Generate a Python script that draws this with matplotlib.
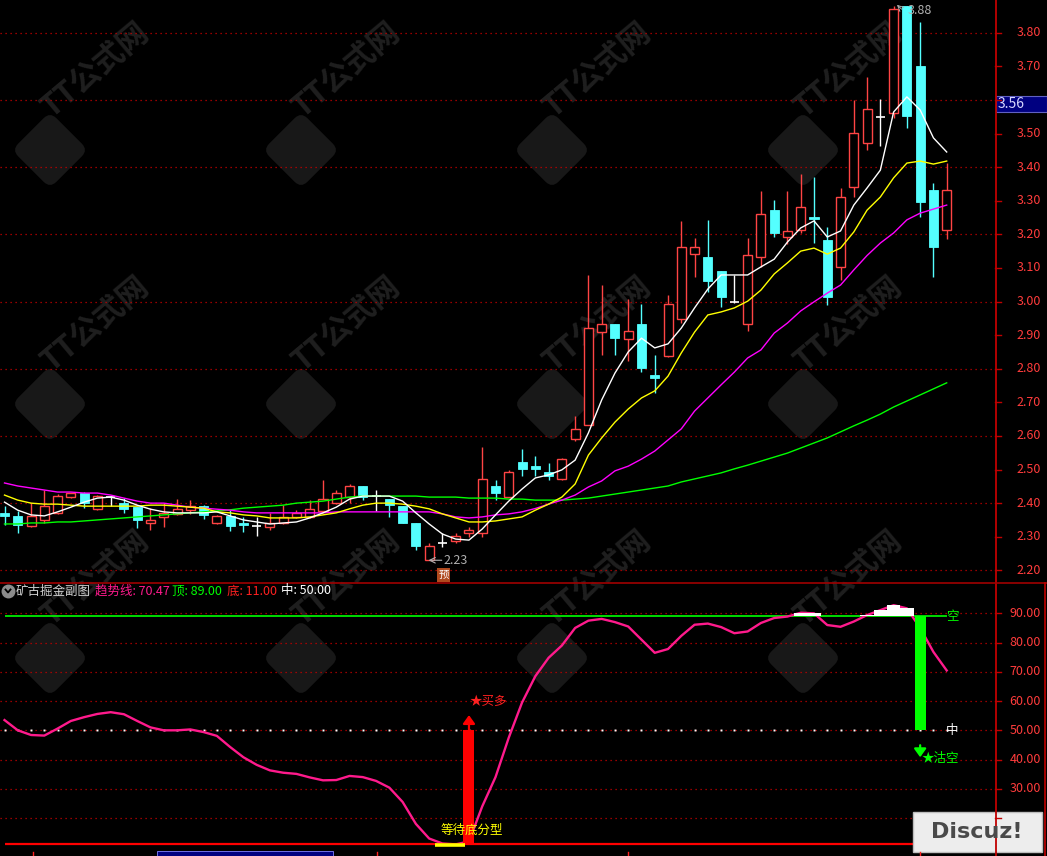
import numpy as np
import matplotlib
matplotlib.use("Agg")
import matplotlib.pyplot as plt
from matplotlib.patches import Rectangle, FancyBboxPatch
from matplotlib.lines import Line2D
from matplotlib.transforms import Affine2D, blended_transform_factory

plt.rcParams["font.family"] = ["Noto Sans CJK SC", "DejaVu Sans"]
plt.rcParams["axes.unicode_minus"] = False

# ---- K-line data ----
opens = [2.372, 2.362, 2.331, 2.350, 2.371, 2.419, 2.429, 2.382, 2.418, 2.401,
         2.389, 2.340, 2.360, 2.368, 2.380, 2.392, 2.340, 2.362, 2.342, 2.332,
         2.330, 2.340, 2.360, 2.360, 2.378, 2.400, 2.419, 2.451, 2.422, 2.411,
         2.392, 2.342, 2.230, 2.282, 2.288, 2.310, 2.310, 2.451, 2.419, 2.522,
         2.510, 2.493, 2.471, 2.590, 2.632, 2.910, 2.933, 2.889, 2.933, 2.780,
         2.838, 2.949, 3.140, 3.131, 3.090, 3.000, 2.933, 3.131, 3.272, 3.191,
         3.213, 3.252, 3.183, 3.102, 3.340, 3.471, 3.550, 3.560, 3.880, 3.701,
         3.332, 3.213]
highs = [2.391, 2.378, 2.400, 2.439, 2.427, 2.431, 2.432, 2.425, 2.421, 2.415,
         2.389, 2.387, 2.400, 2.412, 2.410, 2.395, 2.365, 2.380, 2.360, 2.358,
         2.370, 2.394, 2.380, 2.410, 2.469, 2.440, 2.457, 2.451, 2.440, 2.411,
         2.392, 2.342, 2.280, 2.310, 2.310, 2.330, 2.567, 2.470, 2.500, 2.561,
         2.540, 2.520, 2.535, 2.659, 3.078, 3.049, 2.933, 3.007, 2.992, 2.840,
         3.019, 3.240, 3.189, 3.243, 3.090, 3.078, 3.189, 3.329, 3.302, 3.329,
         3.379, 3.370, 3.223, 3.337, 3.600, 3.667, 3.602, 3.880, 3.880, 3.833,
         3.354, 3.411]
lows = [2.334, 2.312, 2.330, 2.341, 2.368, 2.414, 2.386, 2.380, 2.390, 2.372,
        2.326, 2.320, 2.330, 2.365, 2.368, 2.352, 2.338, 2.318, 2.314, 2.302,
        2.320, 2.338, 2.355, 2.356, 2.375, 2.398, 2.400, 2.410, 2.377, 2.360,
        2.340, 2.260, 2.230, 2.270, 2.280, 2.300, 2.300, 2.410, 2.419, 2.480,
        2.480, 2.470, 2.468, 2.585, 2.632, 2.840, 2.840, 2.824, 2.790, 2.727,
        2.835, 2.936, 3.074, 3.029, 2.983, 2.997, 2.913, 3.104, 3.193, 3.171,
        3.205, 3.174, 2.990, 3.064, 3.312, 3.451, 3.463, 3.545, 3.515, 3.252,
        3.074, 3.185]
closes = [2.363, 2.334, 2.361, 2.392, 2.421, 2.429, 2.401, 2.421, 2.418, 2.384,
          2.350, 2.350, 2.370, 2.382, 2.392, 2.365, 2.362, 2.332, 2.334, 2.332,
          2.340, 2.360, 2.372, 2.382, 2.411, 2.429, 2.451, 2.419, 2.422, 2.394,
          2.342, 2.272, 2.271, 2.282, 2.302, 2.320, 2.471, 2.431, 2.493, 2.502,
          2.502, 2.480, 2.531, 2.620, 2.920, 2.933, 2.890, 2.913, 2.803, 2.773,
          2.993, 3.161, 3.161, 3.062, 3.012, 3.000, 3.139, 3.259, 3.203, 3.211,
          3.280, 3.245, 3.012, 3.310, 3.501, 3.572, 3.550, 3.870, 3.553, 3.295,
          3.163, 3.332]

# moving average lines
ma5 = [2.403, 2.379, 2.365, 2.362, 2.374, 2.388, 2.403, 2.415, 2.418, 2.409,
       2.394, 2.382, 2.374, 2.371, 2.371, 2.371, 2.374, 2.362, 2.350, 2.344,
       2.338, 2.341, 2.344, 2.356, 2.371, 2.388, 2.412, 2.421, 2.421, 2.421,
       2.406, 2.371, 2.338, 2.308, 2.293, 2.290, 2.323, 2.365, 2.406, 2.442,
       2.475, 2.484, 2.499, 2.528, 2.609, 2.707, 2.787, 2.850, 2.891, 2.862,
       2.874, 2.921, 2.981, 3.037, 3.079, 3.079, 3.079, 3.103, 3.126, 3.177,
       3.219, 3.240, 3.192, 3.210, 3.287, 3.338, 3.391, 3.564, 3.609, 3.570,
       3.487, 3.445]
ma10 = [2.424, 2.409, 2.400, 2.397, 2.397, 2.394, 2.391, 2.391, 2.391, 2.391,
        2.391, 2.394, 2.394, 2.391, 2.388, 2.385, 2.374, 2.371, 2.365, 2.362,
        2.356, 2.356, 2.356, 2.359, 2.365, 2.371, 2.383, 2.394, 2.400, 2.400,
        2.397, 2.391, 2.383, 2.368, 2.356, 2.344, 2.344, 2.347, 2.353, 2.359,
        2.379, 2.397, 2.418, 2.457, 2.543, 2.594, 2.641, 2.680, 2.713, 2.734,
        2.778, 2.847, 2.909, 2.960, 2.969, 2.981, 3.001, 3.034, 3.082, 3.115,
        3.150, 3.159, 3.141, 3.159, 3.207, 3.272, 3.311, 3.368, 3.412, 3.418,
        3.409, 3.418]
ma20 = [2.460, 2.451, 2.445, 2.439, 2.433, 2.433, 2.430, 2.430, 2.424, 2.415,
        2.406, 2.400, 2.400, 2.394, 2.388, 2.385, 2.382, 2.379, 2.374, 2.371,
        2.371, 2.371, 2.371, 2.371, 2.371, 2.374, 2.374, 2.374, 2.374, 2.374,
        2.374, 2.374, 2.374, 2.368, 2.359, 2.356, 2.359, 2.365, 2.368, 2.374,
        2.384, 2.397, 2.409, 2.424, 2.448, 2.466, 2.496, 2.510, 2.531, 2.555,
        2.588, 2.621, 2.674, 2.713, 2.752, 2.790, 2.832, 2.856, 2.906, 2.936,
        2.972, 2.999, 3.025, 3.049, 3.094, 3.137, 3.174, 3.204, 3.243, 3.263,
        3.275, 3.287]
ma60 = [2.338, 2.338, 2.341, 2.341, 2.344, 2.344, 2.347, 2.350, 2.353, 2.356,
        2.359, 2.362, 2.365, 2.368, 2.371, 2.374, 2.377, 2.380, 2.385, 2.388,
        2.391, 2.394, 2.400, 2.403, 2.406, 2.412, 2.418, 2.421, 2.421, 2.421,
        2.421, 2.421, 2.418, 2.418, 2.418, 2.415, 2.415, 2.415, 2.412, 2.412,
        2.409, 2.409, 2.409, 2.412, 2.415, 2.421, 2.427, 2.433, 2.439, 2.445,
        2.451, 2.463, 2.472, 2.481, 2.490, 2.502, 2.513, 2.525, 2.537, 2.549,
        2.564, 2.579, 2.594, 2.612, 2.630, 2.647, 2.665, 2.686, 2.704, 2.722,
        2.740, 2.758]

price_ticks = [3.80, 3.70, 3.60, 3.50, 3.40, 3.30, 3.20, 3.10, 3.00, 2.90,
               2.80, 2.70, 2.60, 2.50, 2.40, 2.30, 2.20]
price_grid = [3.80, 3.60, 3.40, 3.20, 3.00, 2.80, 2.60, 2.40, 2.20]
low_idx, low_val = 32, 2.23
high_idx, high_val = 67, 3.88
cur_price = 3.56

# ---- sub chart (矿古掘金副图) ----
trend = [53.5, 50.0, 48.4, 48.2, 50.6, 53.2, 54.5, 55.6, 56.2, 55.5,
         53.2, 51.0, 50.0, 50.0, 50.3, 49.4, 48.1, 44.3, 40.8, 38.2,
         36.3, 35.5, 35.1, 33.9, 32.9, 33.0, 34.4, 34.0, 32.7, 30.4,
         25.5, 18.0, 13.0, 11.3, 11.0, 12.0, 24.0, 34.0, 47.5, 59.5,
         68.5, 74.8, 79.0, 85.0, 87.5, 88.1, 87.0, 85.5, 81.0, 76.5,
         77.8, 82.3, 86.1, 86.5, 85.3, 83.2, 83.8, 86.7, 88.4, 88.9,
         90.2, 90.0, 86.0, 85.4, 87.2, 89.4, 91.1, 92.8, 91.7, 85.0,
         76.8, 70.47]
sub_ticks = [90, 80, 70, 60, 50, 40, 30, 20]
top_line = 89.0
bottom_line = 11.0
mid_line = 50.0
buy_idx = 35
sell_idx = 69
wait_range = (32.45, 34.7)

GRID = "#C80000"
AXIS_RED = "#C00000"
LABEL_RED = "#FF3C3C"
UP = "#FF4444"
DOWN = "#54FFFF"
PINK = "#FF1A8C"

W, H = 1047, 856
fig = plt.figure(figsize=(W / 100, H / 100), dpi=100, facecolor="black")
pix = Affine2D().scale(1 / W, -1 / H).translate(0, 1) + fig.transFigure


def px_box(x0, y0, x1, y1):
    return [x0 / W, 1 - y1 / H, (x1 - x0) / W, (y1 - y0) / H]


# faint site watermarks behind everything
for cx in [50, 301, 552, 803]:
    for cy in [150, 404, 658, 912]:
        fig.add_artist(FancyBboxPatch(
            (cx - 27, cy - 27), 54, 54,
            boxstyle="round,pad=0,rounding_size=9",
            transform=Affine2D().rotate_deg_around(cx, cy, 45) + pix,
            fc="#181818", ec="none", zorder=-2))
        if cy < 900:
            fig.text(cx + 45, cy - 80, "TT公式网", transform=pix,
                     rotation=40, fontsize=22, fontweight="bold",
                     color="#1F1F1F", ha="center", va="center", zorder=-1)

x = np.arange(len(closes))
xlim = (-0.34, 74.64)

# ================= main chart =================
ax = fig.add_axes(px_box(0, 0, 995, 582))
ax.set_xlim(*xlim)
ax.set_ylim(2.1653, 3.8973)
ax.axis("off")

for p in price_grid:
    ax.axhline(p, color=GRID, lw=0.9, ls=(0, (1, 3)), zorder=1)

bw = 0.68
for i, (o, h, l, c) in enumerate(zip(opens, highs, lows, closes)):
    if c > o:
        ax.vlines(i, c, h, color=UP, lw=1, zorder=2)
        ax.vlines(i, l, o, color=UP, lw=1, zorder=2)
        ax.add_patch(Rectangle((i - bw / 2, o), bw, c - o, fc="black",
                               ec=UP, lw=1, zorder=2))
    elif c < o:
        ax.vlines(i, l, h, color=DOWN, lw=1, zorder=2)
        ax.add_patch(Rectangle((i - bw / 2, c), bw, max(o - c, 0.004),
                               fc=DOWN, ec=DOWN, lw=0.6, zorder=2))
    else:
        ax.vlines(i, l, h, color="white", lw=1, zorder=2)
        ax.hlines(o, i - bw / 2, i + bw / 2, color="white", lw=1.2, zorder=2)

ax.plot(x, ma60, color="#00FF00", lw=1, zorder=3)
ax.plot(x, ma20, color="#FF00FF", lw=1, zorder=3)
ax.plot(x, ma10, color="#FFFF00", lw=1, zorder=3)
ax.plot(x, ma5, color="white", lw=1, zorder=3)

# low / high marks
ax.annotate("", xy=(low_idx - 0.05, low_val), xytext=(low_idx + 0.95, low_val),
            arrowprops=dict(arrowstyle="->", color="#B0B0B0", lw=0.8,
                            shrinkA=0, shrinkB=0))
ax.text(low_idx + 1.05, low_val, f"{low_val:.2f}", color="#B0B0B0",
        fontsize=9, ha="left", va="center", zorder=5)
ax.text(low_idx + 1.08, 2.186, "预", color="white", fontsize=7.5,
        ha="center", va="center", zorder=5,
        bbox=dict(fc="#B04A1E", ec="none", pad=1.2))
ax.annotate("", xy=(high_idx + 0.25, high_val + 0.003),
            xytext=(high_idx + 0.6, high_val - 0.01),
            arrowprops=dict(arrowstyle="->", color="#B0B0B0", lw=0.7,
                            shrinkA=0, shrinkB=0))
ax.text(high_idx + 1.09, 3.866, f"{high_val:.2f}", color="#B0B0B0",
        fontsize=9, ha="left", va="center", zorder=5)

tr_up = blended_transform_factory(fig.transFigure, ax.transData)
for p in price_ticks:
    fig.add_artist(Line2D([995 / W, 1001 / W], [p, p], transform=tr_up,
                          color=AXIS_RED, lw=1))
    if abs(p - cur_price) < 0.05:
        continue  # hidden under the current price box
    ax.text(1041 / W, p, f"{p:.2f}", transform=tr_up, ha="right",
            va="center", color=LABEL_RED, fontsize=9)

# current price box
fig.add_artist(Rectangle((996, 96), 51, 16, transform=pix, fc="#000080",
                         ec="#6060C0", lw=0.8))
fig.text(998, 104.5, f"{cur_price:.2f}", transform=pix, ha="left",
         va="center", color="#D8D8FF", fontsize=10)

# ================= sub chart =================
ax2 = fig.add_axes(px_box(0, 584, 995, 848))
ax2.set_xlim(*xlim)
ax2.set_ylim(9.76, 100.03)
ax2.axis("off")

for v in sub_ticks:
    ax2.axhline(v, color=GRID, lw=0.9, ls=(0, (1, 3)), zorder=1)
ax2.plot(x, np.full(len(x), mid_line), ls="none", marker="s", ms=1.4,
         mew=0, color="white", zorder=2)

ax2.hlines(top_line, x[0], x[-1], color="#00FF00", lw=1.2, zorder=2)
ax2.hlines(bottom_line, x[0], x[-1], color="#FF0000", lw=1.6, zorder=4)

trend_arr = np.array(trend)
ax2.plot(x, trend_arr, color=PINK, lw=1.7, zorder=3)
above = trend_arr > top_line
ax2.bar(x[above], trend_arr[above] - top_line, bottom=top_line, width=1.0,
        color="white", zorder=4)

ax2.bar(buy_idx, mid_line - bottom_line, bottom=bottom_line, width=0.83,
        color="#FF0000", zorder=5)
ax2.bar(sell_idx, top_line - mid_line, bottom=mid_line, width=0.83,
        color="#00FF00", zorder=5)
ax2.hlines(10.7, wait_range[0], wait_range[1], color="#FFFF00", lw=2.6,
           zorder=5)

ax2.annotate("", xy=(buy_idx, 55.2), xytext=(buy_idx, mid_line),
             arrowprops=dict(arrowstyle="-|>,head_width=0.36,head_length=0.5",
                             color="#FF0000", lw=1.6, shrinkA=0, shrinkB=0))
ax2.text(buy_idx + 0.05, 60.0, "★买多", color="#FF2020", fontsize=9,
         ha="left", va="center")
ax2.annotate("", xy=(sell_idx, 40.8), xytext=(sell_idx, 44.9),
             arrowprops=dict(arrowstyle="-|>,head_width=0.36,head_length=0.5",
                             color="#00FF00", lw=1.6, shrinkA=0, shrinkB=0))
ax2.text(sell_idx + 0.08, 40.2, "★沽空", color="#00FF00", fontsize=9,
         ha="left", va="center")
ax2.text(71.4, mid_line, "中", color="white", fontsize=9, ha="center",
         va="center")
ax2.text(71.4, top_line, "空", color="#00FF00", fontsize=9, ha="center",
         va="center")
ax2.text(buy_idx + 0.2, 15.9, "等待底分型", color="#FFFF00", fontsize=9,
         ha="center", va="center", zorder=6)

tr_dn = blended_transform_factory(fig.transFigure, ax2.transData)
for v in sub_ticks:
    ax2.text(1041 / W, v, f"{v:.2f}", transform=tr_dn, ha="right",
             va="center", color=LABEL_RED, fontsize=9)
    fig.add_artist(Line2D([995 / W, 1001 / W], [v, v], transform=tr_dn,
                          color=AXIS_RED, lw=1))

# legend line of the sub chart
fig.add_artist(Line2D([8], [591], marker="o", ms=9, color="#8C8C8C",
                      transform=pix))
fig.add_artist(Line2D([5.5, 8, 10.5], [589.5, 592.5, 589.5], color="black",
                      lw=1.3, transform=pix))
legend_parts = [
    (16, "矿古掘金副图", "#D0D0D0"),
    (95, f"趋势线: {trend[-1]:.2f}", PINK),
    (172, f"顶: {top_line:.2f}", "#00FF00"),
    (227, f"底: {bottom_line:.2f}", "#FF2020"),
    (281, f"中: {mid_line:.2f}", "white"),
]
for px_x, s, col in legend_parts:
    fig.text(px_x, 591, s, transform=pix, ha="left", va="center",
             color=col, fontsize=9)

# frame lines
fig.add_artist(Line2D([995.5, 995.5], [0, 856], transform=pix,
                      color=AXIS_RED, lw=1.3))
fig.add_artist(Line2D([0, 1047], [583, 583], transform=pix,
                      color="#A00000", lw=1.2))
fig.add_artist(Line2D([1045, 1045], [583, 856], transform=pix,
                      color=AXIS_RED, lw=1.2))

# date strip at the bottom
fig.add_artist(Rectangle((157, 851), 176, 8, transform=pix, fc="#000080",
                         ec="#8080FF", lw=0.6))
for tx in [33, 377, 628, 920]:
    fig.add_artist(Line2D([tx, tx], [852, 856], transform=pix,
                          color="#FF2020", lw=1))

# forum watermark box
fig.add_artist(Rectangle((913, 812), 129, 40, transform=pix, fc="#EDEDED",
                         ec="#BDBDBD", lw=1))
fig.text(977, 832, "Discuz!", transform=pix, ha="center", va="center",
         color="#4A4A4A", fontsize=16, fontweight="bold",
         family="DejaVu Sans")

fig.savefig("out.png", dpi=100, facecolor="black")
